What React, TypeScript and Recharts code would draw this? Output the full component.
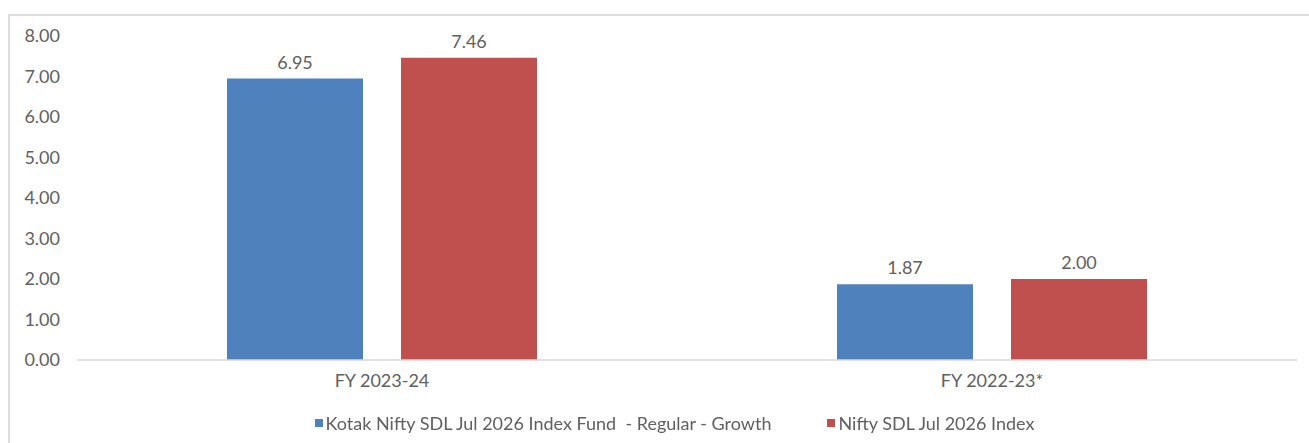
import React from 'react';
import { BarChart, Bar, XAxis, YAxis, Legend, LabelList } from 'recharts';

const categories = ['FY 2023-24', 'FY 2022-23*'];
const fundValues = [6.95, 1.87];
const indexValues = [7.46, 2.0];
const yTicks = [0, 1, 2, 3, 4, 5, 6, 7, 8];
const fundName = 'Kotak Nifty SDL Jul 2026 Index Fund  - Regular - Growth';
const indexName = 'Nifty SDL Jul 2026 Index';

const data = categories.map((c, i) => ({ name: c, fund: fundValues[i], index: indexValues[i] }));

const FONT = 'Lato, sans-serif';
const FS = 18;
const TEXT = '#606060';
const BLUE = '#4f81bd';
const RED = '#c0504d';

const LegendContent = (props: any) => {
  const items = props.payload || [];
  return (
    <div style={{ display: 'flex', justifyContent: 'center', height: 22, alignItems: 'center', fontFamily: FONT, fontSize: FS, color: TEXT, paddingLeft: 52 }}>
      {items.map((it: any, i: number) => (
        <div key={i} style={{ display: 'flex', alignItems: 'center', marginLeft: i === 0 ? 0 : 56 }}>
          <span style={{ display: 'inline-block', width: 8, height: 8, background: it.color, marginRight: 3 }} />
          <span style={{ whiteSpace: 'pre' }}>{it.value}</span>
        </div>
      ))}
    </div>
  );
};

export default function App() {
  return (
    <>
      <div style={{ position: 'fixed', left: 8, top: 14, width: 1301, height: 429, borderTop: '2px solid #dedede', borderLeft: '2px solid #dedede', boxSizing: 'border-box', background: '#fff' }} />
      <div style={{ position: 'fixed', left: 0, top: 0 }}>
        <BarChart
          width={1309}
          height={443}
          data={data}
          margin={{ top: 36, right: 12, left: 0, bottom: 9 }}
          barSize={136}
          barGap={38}
        >
          <XAxis
            dataKey="name"
            axisLine={{ stroke: '#d9d9d9', strokeWidth: 1.5 }}
            tickLine={false}
            tickMargin={8}
            height={52}
            tick={{ fill: TEXT, fontFamily: FONT, fontSize: FS }}
          />
          <YAxis
            width={77}
            domain={[0, 8]}
            ticks={yTicks}
            axisLine={false}
            tickLine={false}
            tickMargin={11}
            tickFormatter={(v: number) => v.toFixed(2)}
            tick={{ fill: TEXT, fontFamily: FONT, fontSize: FS }}
          />
          <Legend content={<LegendContent />} verticalAlign="bottom" height={22} />
          <Bar dataKey="fund" name={fundName} fill={BLUE} isAnimationActive={false}>
            <LabelList dataKey="fund" position="top" offset={10} formatter={(v: number) => v.toFixed(2)} style={{ fill: TEXT, fontFamily: FONT, fontSize: FS }} />
          </Bar>
          <Bar dataKey="index" name={indexName} fill={RED} isAnimationActive={false}>
            <LabelList dataKey="index" position="top" offset={10} formatter={(v: number) => v.toFixed(2)} style={{ fill: TEXT, fontFamily: FONT, fontSize: FS }} />
          </Bar>
        </BarChart>
      </div>
    </>
  );
}
